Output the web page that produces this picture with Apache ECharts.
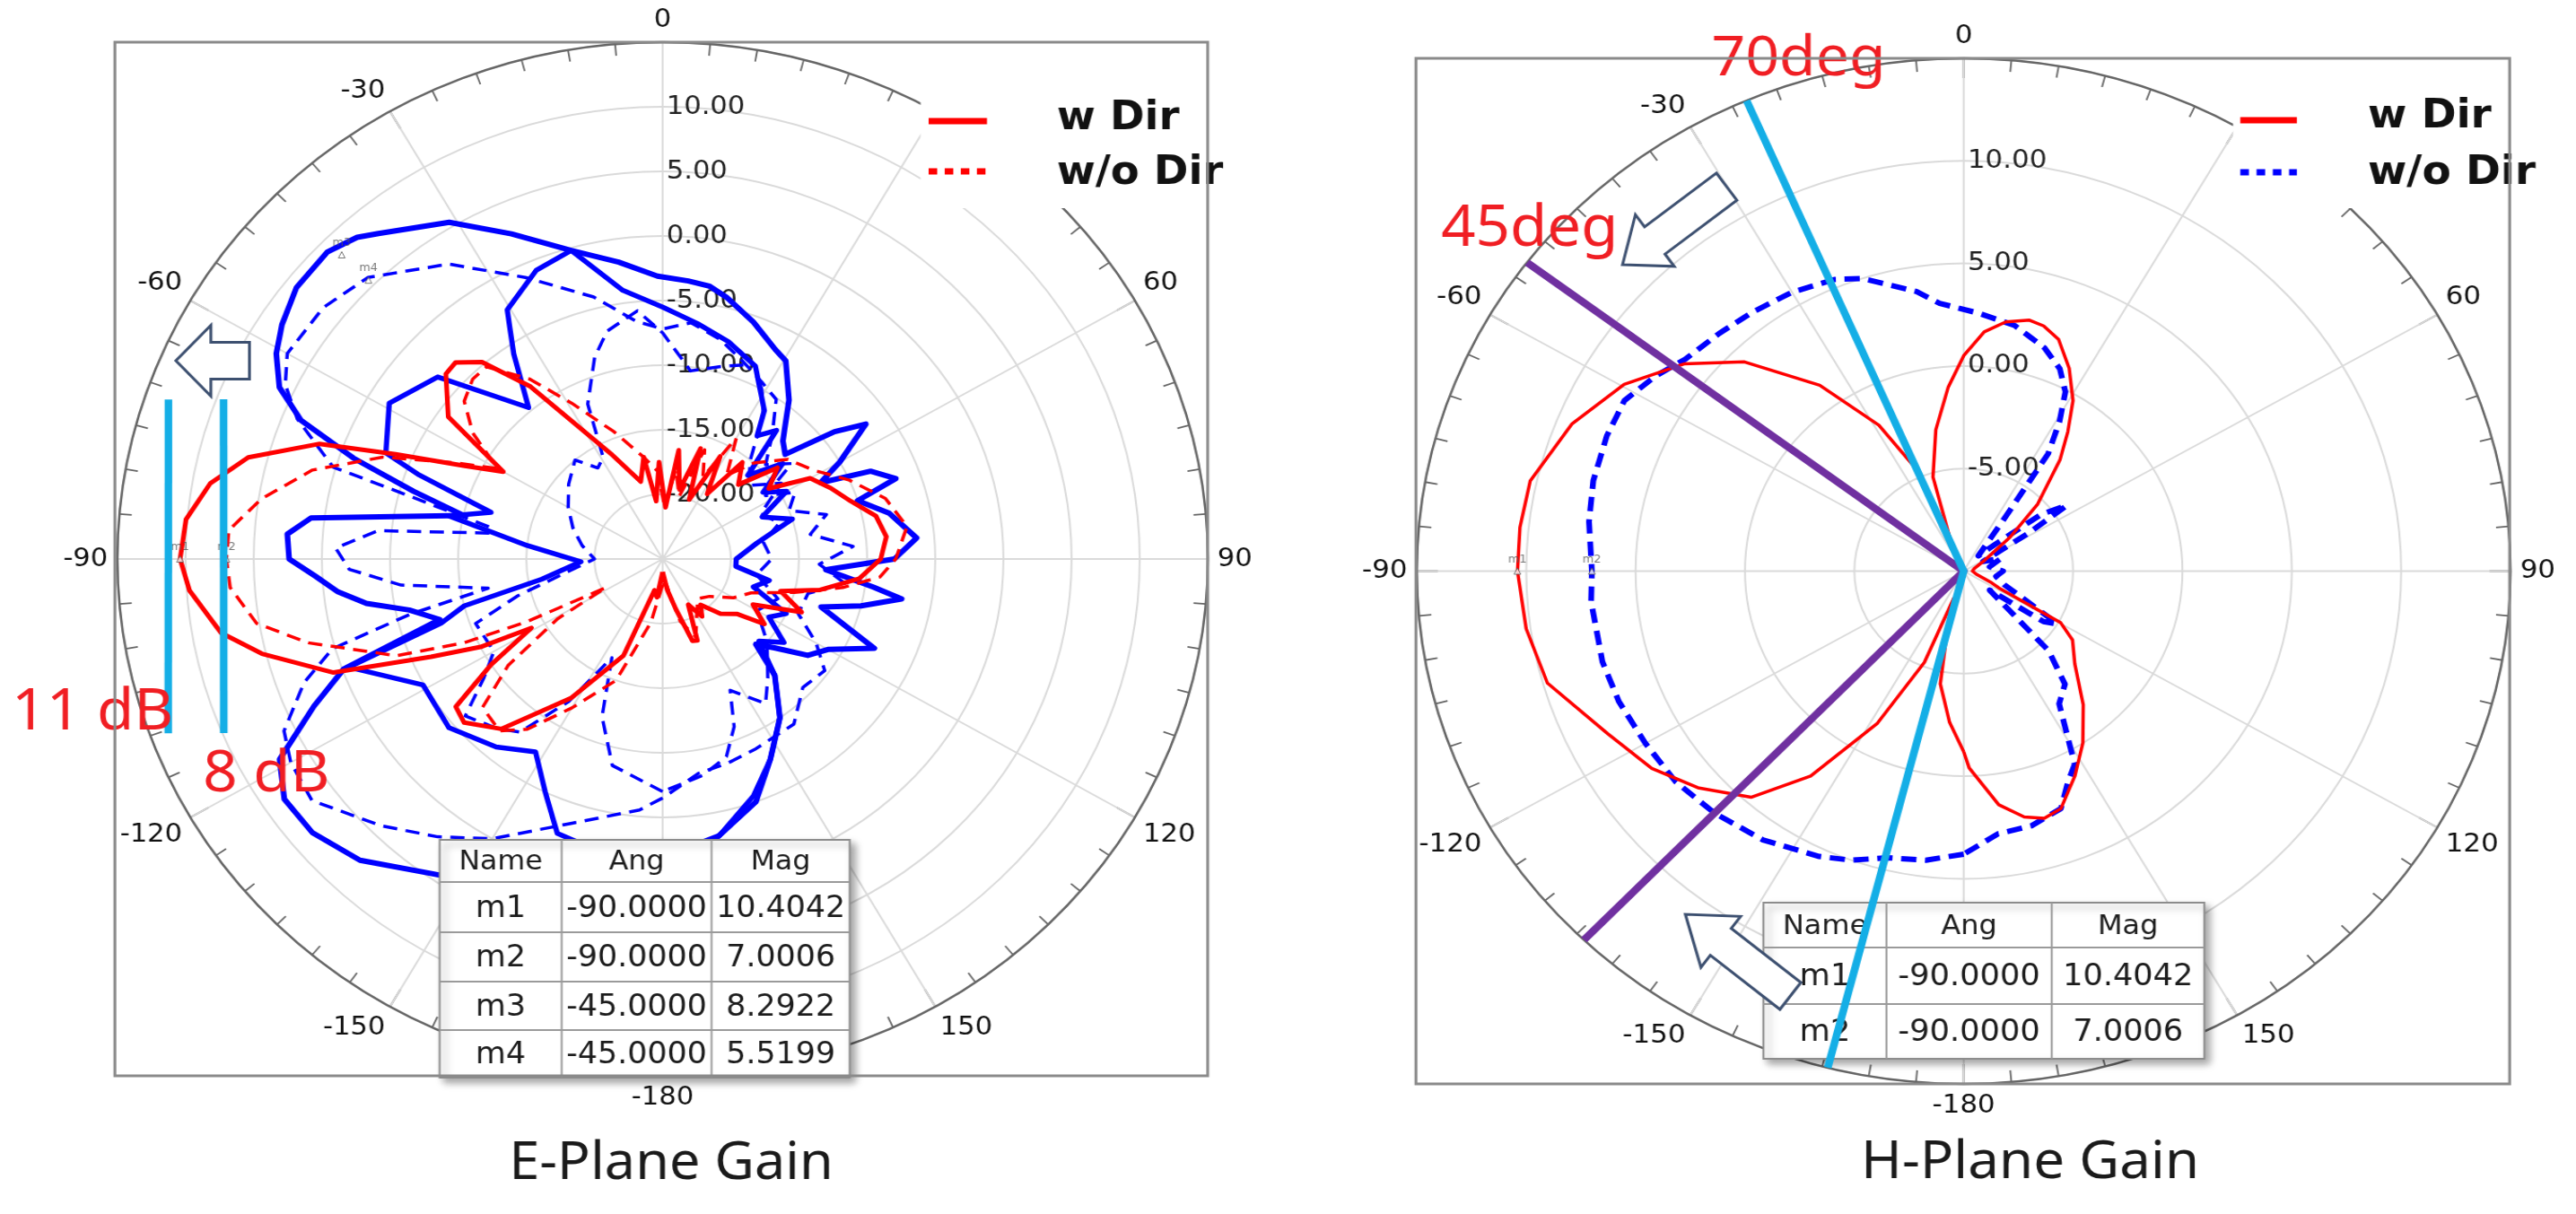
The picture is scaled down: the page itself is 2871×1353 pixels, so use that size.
<!DOCTYPE html>
<html>
<head>
<meta charset="utf-8">
<script src="https://cdn.jsdelivr.net/npm/echarts@6/dist/echarts.min.js"></script>
<style>
  html, body { margin: 0; padding: 0; background: #fff; width: 2871px; height: 1353px; overflow: hidden; }
  .pane { position: absolute; top: 0; height: 1353px; transform-origin: 0 0; }
</style>
</head>
<body>
<div id="ePlane" class="pane"></div>
<div id="hPlane" class="pane"></div>
<script>
// ---- E-plane gain, points are [angle deg, gain dB] ----
var eRedSolid = [[-180,-24],[-172,-22],[-166,-22.5],[-159,-17],[-148,-12.3],[-138,-7.3],[-131,-5.7],[-127,-6],[-123,-10],[-119,-14],[-117,-10],[-114,-6.4],[-110,0.7],[-104,5.3],[-100,7.9],[-94,9.8],[-90,10.4],[-85,10.1],[-80,8.7],[-75.5,6.4],[-70.5,1.7],[-67.5,-3.8],[-63.6,-8.8],[-60,-11.5],[-55,-5.8],[-48,-3.6],[-45,-3.5],[-41,-4.8],[-36,-8.5],[-32,-12.4],[-25,-16],[-15,-18.8],[-10,-17],[-6,-20.5],[-2,-17.5],[3,-21],[8,-16.5],[13,-19.5],[18,-16],[23,-20],[28,-16],[33,-19],[38,-15.5],[44,-17],[50,-14],[55,-15.5],[60,-12.5],[66,-11.5],[72,-10.5],[78,-9],[84,-8.5],[90,-9],[96,-10.5],[101.7,-13.2],[106,-16],[112,-14],[118,-17.5],[124,-16],[128,-18.1],[135,-19],[142,-20.5],[147,-19.7],[152,-21],[158,-18.2],[161,-18.3],[166,-21],[172,-22.6],[180,-24]];
var eRedDash = [[-180,-23],[-170,-20],[-160,-15],[-150,-11.7],[-143,-8.5],[-138,-7.1],[-131,-7.5],[-126,-11],[-121,-16],[-118,-20.3],[-116,-14],[-114,-9.1],[-111,-4.1],[-104,1.8],[-99.5,5.2],[-94,6.8],[-90,7],[-86,6.9],[-81,4.8],[-75,1.6],[-69,-3],[-64,-8],[-60,-11],[-55,-8],[-50,-6],[-45,-5.3],[-41,-5.3],[-35,-8],[-29,-11.2],[-20,-14.5],[-10,-17],[-3,-18.2],[2,-21],[8,-18],[14,-20],[20,-16],[25,-18],[30,-14.2],[36,-17],[42,-15],[50,-13],[58,-12],[66,-10],[74,-8],[82,-6.9],[90,-7.9],[95,-9],[99.5,-11.6],[105,-15],[112,-18],[120,-19],[130,-20.5],[140,-21],[150,-20],[158,-18.5],[165,-20],[172,-23],[180,-23]];
var eBlueSolidOuter = [[-180,-0.5],[-175,0],[-165,1.5],[-155,3],[-145,4.7],[-136.4,7.2],[-129.5,8.3],[-123.8,8.4],[-118.9,7.1],[-114,3],[-110,-0.1],[-106,-8],[-102,-6],[-99,-3],[-96,-1],[-93,0.5],[-90,2.4],[-86,2.6],[-83,1],[-80,-6],[-77,-10],[-74,-6],[-71,-1],[-68,3.6],[-64.7,6.1],[-60.7,7.5],[-57,8.3],[-52,9.1],[-46,9.2],[-42,8.5],[-39.6,7.7],[-31,5.4],[-23.8,2.5],[-15.7,-0.2],[-8,-1.8],[-1,-3.1],[5,-3.4],[9.2,-3.6],[13,-4.2],[20,-5.5],[27,-6.8],[30.5,-7.2],[37,-9.6],[44,-12.3],[48,-12.9],[52,-9],[55,-6.8],[60,-10],[63,-12],[66,-8.3],[70,-6.8],[72.5,-10],[78,-8],[85,-6.3],[90,-8],[94,-13],[98,-9.4],[100,-7.2],[104,-10],[107.7,-12.8],[114,-8],[120,-11],[125,-12],[130,-14.3],[134,-15.5],[137.6,-12.8],[145,-10],[153,-7.6],[160,-5],[169,-3.2],[175,-1.5],[180,-0.5]];
var eBlueSolidInner = [[-180,-2.5],[-172,-1.5],[-160,-2.4],[-154.5,-5],[-148,-7.4],[-140,-6],[-129.8,-4.6],[-119,-4.9],[-110,-0.5],[-107,-8],[-104,-10],[-100,-16],[-92,-19],[-84,-15],[-78,-9],[-74,-11.9],[-70,-6],[-68,-3.1],[-59,-1.6],[-49.5,-3.3],[-40,-9.7],[-34.5,-5.7],[-30.6,-2.6],[-22.5,-0.8],[-15.7,-0.2],[-8,-4],[0,-5.5],[8,-6.6],[16,-7.5],[24.5,-8.6],[33,-11.3],[36,-13.2],[40,-12],[44,-16],[50,-13.5],[55,-16],[60,-14.5],[66,-17],[72,-15],[80,-18],[90,-19.6],[96,-19.6],[102,-17],[108,-18],[115,-15],[120,-16],[126,-14],[132,-15.5],[137.6,-12.8],[145,-10],[153,-7.6],[160,-5.5],[169,-3.2],[176,-2.5],[180,-2.5]];
var eBlueDashOuter = [[-180,-6.5],[-175,-5.5],[-162,-3.5],[-150,0],[-142.5,2.1],[-135,4.2],[-126,6.8],[-120,6.5],[-115.6,5.8],[-110,3],[-106,0.2],[-103,-6],[-100,-12],[-96,-5.7],[-92,-2],[-88,-1],[-84,-4],[-81,-12.2],[-79,-12.1],[-74.9,-4.7],[-73.6,0.2],[-68,3.9],[-64,5.8],[-60,6.8],[-52,6.6],[-44.8,5.7],[-34.5,2.7],[-24.8,-1],[-14,-4.1],[-6,-6.5],[0,-7.2],[6.5,-6.6],[14,-7.5],[21,-8.6],[28,-9.5],[34,-10.1],[40,-12.5],[46,-14.5],[52,-13],[57,-16],[62,-14],[68,-15],[74,-12.5],[80,-14],[86,-11],[92,-13.5],[98,-11.5],[104,-14],[113,-14.2],[120,-12],[126,-10.3],[134,-10.7],[143,-9],[155,-8.8],[163,-8.5],[171,-8.2],[180,-6.5]];
var eBlueDashInner = [[-180,-7],[-167,-8.6],[-160,-12],[-154,-16.5],[-148,-12],[-142,-8],[-137,-7.1],[-130,-6.1],[-125,-9],[-120,-10.7],[-110,-10.4],[-105,-14],[-98,-18],[-90,-20],[-80,-19],[-70,-18],[-60,-17],[-50,-16],[-40,-15],[-34,-16.5],[-29,-16],[-24.6,-11.8],[-17.7,-8.6],[-13,-6.9],[-5.5,-5.7],[0,-7.5],[8,-10.3],[16,-9.5],[24,-8.5],[29,-10],[33.5,-11.6],[40,-15],[48,-16.5],[56,-14.5],[64,-17],[72,-16],[80,-17.5],[90,-17],[100,-18],[110,-16],[120,-17],[130,-15],[140,-13],[146,-11.5],[154,-13.7],[158,-11],[163,-9],[170,-8],[180,-7]];
var eMarkers = [['m1', -90, 10.4042], ['m2', -90, 7.0006], ['m3', -45, 8.2922], ['m4', -45, 5.5199]];
// hand drawn level lines (11 dB / 8 dB), [angle, dB]
var eLevel11 = [[-71.2, 13.3], [-110.4, 13.7]];
var eLevel8 = [[-69.0, 9.5], [-112.7, 9.9]];

// ---- H-plane gain ----
var hWithDir = [[-180,-1.2],[-175,-2.6],[-169,-4.4],[-164,-7.5],[-161,-8.6],[-158,-5.2],[-152,-1.6],[-145,2.2],[-138.6,4.7],[-131,6.1],[-124,7.2],[-116,8.1],[-106,9.8],[-98,10.2],[-90,10.4],[-84,10.4],[-77.5,10.3],[-68.2,9.3],[-59.6,8],[-51.7,6.3],[-44.5,4.3],[-36,1.2],[-28.6,-1.9],[-24,-4.4],[-21,-8.2],[-17,-5.2],[-10.5,-3],[-4.5,-1],[0,0.5],[4.6,1.7],[9,2.3],[13.8,2.6],[17,2.5],[21,2.1],[26,1],[31,-0.3],[35,-1.7],[39,-3],[46,-5.3],[52,-7.3],[61,-8.9],[75,-9.5],[90,-9.6],[105,-9.4],[114,-8.6],[117,-8.2],[119.6,-4.9],[124,-4],[131.7,-3.2],[140,-1.5],[147,0],[153,1.2],[159,2.4],[163,2.6],[167,2.3],[172,1.5],[178.5,-0.4],[180,-1.2]];
var hWithoutDir = [[-180,3.8],[-173,4.2],[-166,4.4],[-160,5],[-154.6,5.4],[-145,6],[-136,6.4],[-128,6.7],[-120,6.8],[-112,7],[-105,7.1],[-95,7.1],[-90,7.0],[-82,7.3],[-75.4,7.5],[-68,7.6],[-61.8,7.6],[-56,7],[-51,6.4],[-44,6.1],[-37.6,5.9],[-30,5.7],[-22.6,5.4],[-18,5],[-14,4.4],[-9,3.8],[-4.8,3.1],[3,2.6],[11,2.2],[18.7,1.5],[24,0.8],[28,-0.1],[31,-1.5],[34,-3.1],[36,-6.9],[42,-9],[48,-8],[52,-5.5],[55.8,-4.3],[58,-6.5],[62,-9],[70,-8.2],[80,-8.8],[90,-8.2],[100,-8.5],[110,-8],[116,-7],[121,-5],[124,-5.6],[128,-8.5],[135,-4.5],[140,-2.8],[146,-2.2],[151.7,0.7],[155,1.3],[159,2.4],[166,2.8],[173,2.9],[180,3.8]];
var hMarkers = [['m1', -90, 10.4042], ['m2', -90, 7.0006]];
// hand drawn beam-edge lines, [angle, dB]
var hLine70 = [[-23.4, 15], [0, -10], [-165.6, 15]];
var hLine45 = [[-53, 15], [0, -10], [-136, 15]];

var tableHead = ['Name', 'Ang', 'Mag'];

// ---- layout of the two panes (full-picture pixels) ----
var E = { id: 'ePlane', left: 0, width: 1435, sx: 1.055, cx: 738.5, cy: 623, r: 576, rMin: -25, rMax: 15 };
var H = { id: 'hPlane', left: 1435, width: 1436, sx: 1.0656, cx: 2188, cy: 636.5, r: 571.5, rMin: -10, rMax: 15 };

var RED = '#ff0000', BLUE = '#0000ff', CYAN = '#14aee6', PURPLE = '#7030a0', ANNO = '#f01e23';

function toPolar(arr) {
  return arr.map(function (p) { return [p[1], (p[0] + 360) % 360]; });
}

function angleLabel(v) {
  if (v === 360 || v === 30) return '';
  if (v === 180) return '-180';
  return String(v > 180 ? v - 360 : v);
}

function curve(name, data, color, width, dash, z) {
  return {
    name: name, type: 'line', coordinateSystem: 'polar', data: toPolar(data),
    symbol: 'none', silent: true, z: z, clip: false,
    lineStyle: { color: color, width: width, type: dash || 'solid', cap: 'butt', join: 'round' }
  };
}

function markers(list) {
  return {
    type: 'scatter', coordinateSystem: 'polar', z: 6, silent: true,
    data: list.map(function (m) { return { name: m[0], value: [m[2], (m[1] + 360) % 360] }; }),
    symbol: 'triangle', symbolSize: 7,
    itemStyle: { color: '#fff', borderColor: '#555', borderWidth: 1 },
    label: { show: true, formatter: '{b}', position: 'top', distance: 3, fontSize: 12, color: '#555', fontFamily: 'DejaVu Sans' }
  };
}

function arrowPoints(tip, tail, headLen, headHalf, shaftHalf) {
  var dx = tail[0] - tip[0], dy = tail[1] - tip[1], L = Math.sqrt(dx * dx + dy * dy);
  var ux = dx / L, uy = dy / L, nx = -uy, ny = ux;
  var b = [tip[0] + ux * headLen, tip[1] + uy * headLen];
  return [tip,
    [b[0] + nx * headHalf, b[1] + ny * headHalf],
    [b[0] + nx * shaftHalf, b[1] + ny * shaftHalf],
    [tail[0] + nx * shaftHalf, tail[1] + ny * shaftHalf],
    [tail[0] - nx * shaftHalf, tail[1] - ny * shaftHalf],
    [b[0] - nx * shaftHalf, b[1] - ny * shaftHalf],
    [b[0] - nx * headHalf, b[1] - ny * headHalf]];
}

function setup(p, series, extra) {
  var dom = document.getElementById(p.id);
  var w = p.width / p.sx;
  dom.style.left = p.left + 'px';
  dom.style.width = w + 'px';
  dom.style.transform = 'scaleX(' + p.sx + ')';
  var px = function (X) { return (X - p.left) / p.sx; };

  var g = [];
  function text(str, X, y, size, opts) {
    opts = opts || {};
    g.push({ type: 'text', x: px(X), y: y, z: opts.z || 30, silent: true,
      style: { text: str, fontSize: size, fontFamily: opts.font || 'Noto Sans', fontWeight: opts.weight || 'normal',
        fill: opts.color || '#1a1a1a', align: opts.align || 'left', verticalAlign: 'middle' } });
  }
  function hline(X1, X2, y, color, width, dash, z) {
    g.push({ type: 'line', z: z || 30, silent: true, shape: { x1: px(X1), y1: y, x2: px(X2), y2: y },
      style: { stroke: color, lineWidth: width, lineDash: dash || null, lineCap: 'butt' } });
  }
  function vline(X, y1, y2, color, width, z) {
    g.push({ type: 'line', z: z || 30, silent: true, shape: { x1: px(X), y1: y1, x2: px(X), y2: y2 },
      style: { stroke: color, lineWidth: width } });
  }
  function rect(X1, y1, X2, y2, style, z) {
    g.push({ type: 'rect', z: z, silent: true, shape: { x: px(X1), y: y1, width: px(X2) - px(X1), height: y2 - y1 }, style: style });
  }
  function arrow(tip, tail, hl, hh, sh) {
    var pts = arrowPoints(tip, tail, hl, hh, sh).map(function (q) { return [px(q[0]), q[1]]; });
    g.push({ type: 'polygon', z: 40, silent: true, shape: { points: pts },
      style: { fill: '#ffffff', stroke: '#3d5070', lineWidth: 3, lineJoin: 'miter' } });
  }
  function table(cols, rowsY, body) {
    rect(cols[0], rowsY[0], cols[cols.length - 1], rowsY[rowsY.length - 1],
      { fill: '#fff', stroke: '#8c8c8c', lineWidth: 2, shadowBlur: 8, shadowOffsetX: 5, shadowOffsetY: 5, shadowColor: 'rgba(0,0,0,0.35)' }, 12);
    for (var c = 1; c < cols.length - 1; c++) vline(cols[c], rowsY[0], rowsY[rowsY.length - 1], '#9a9a9a', 2, 13);
    for (var r = 1; r < rowsY.length - 1; r++) hline(cols[0], cols[cols.length - 1], rowsY[r], '#9a9a9a', 2, null, 13);
    var rows = [tableHead].concat(body.map(function (m) { return [m[0], m[1].toFixed(4), m[2].toFixed(4)]; }));
    rows.forEach(function (row, ri) {
      row.forEach(function (cell, ci) {
        text(cell, (cols[ci] + cols[ci + 1]) / 2, (rowsY[ri] + rowsY[ri + 1]) / 2 + 2, ri === 0 ? 30 : 33,
          { font: 'DejaVu Sans', align: 'center', color: '#1c1c1c', z: 14 });
      });
    });
  }
  extra({ text: text, hline: hline, vline: vline, rect: rect, arrow: arrow, table: table });

  var chart = echarts.init(dom, null, { renderer: 'canvas', width: w, height: 1353 });
  chart.setOption({
    animation: false,
    polar: { center: [px(p.cx), p.cy], radius: p.r },
    angleAxis: {
      type: 'value', min: 0, max: 360, interval: 30, startAngle: 90, clockwise: true, z: 1,
      axisLine: { show: true, lineStyle: { color: '#666', width: 2.5 } },
      axisTick: { show: true, inside: true, length: 22, lineStyle: { color: '#666', width: 2 } },
      minorTick: { show: true, splitNumber: 6, length: 13, lineStyle: { color: '#666', width: 1.8 } },
      splitLine: { show: true, lineStyle: { color: '#dadada', width: 2 } },
      axisLabel: { show: true, margin: 10, fontSize: 29, fontFamily: 'DejaVu Sans', color: '#111', formatter: angleLabel }
    },
    radiusAxis: {
      type: 'value', min: p.rMin, max: p.rMax, interval: 5, z: 1,
      axisLine: { show: false }, axisTick: { show: false },
      splitLine: { show: true, lineStyle: { color: '#dadada', width: 2 } },
      axisLabel: {
        show: true, margin: -4, align: 'left', fontSize: 29, fontFamily: 'DejaVu Sans', color: '#222',
        padding: [0, 0, 12, 0],
        formatter: function (v) { return (v <= p.rMin || v >= p.rMax) ? '' : v.toFixed(2); }
      }
    },
    series: series,
    graphic: { elements: g }
  });
  return chart;
}

// ---- E-plane ----
setup(E, [
  curve('w Dir (cut 2)', eBlueSolidInner, BLUE, 5.5, null, 2),
  curve('w Dir (cut 1)', eBlueSolidOuter, BLUE, 6, null, 2),
  curve('w/o Dir (cut 2)', eBlueDashInner, BLUE, 3.5, [15, 9], 2),
  curve('w/o Dir (cut 1)', eBlueDashOuter, BLUE, 3.5, [15, 9], 2),
  curve('w/o Dir', eRedDash, RED, 3.5, [15, 9], 3),
  curve('w Dir', eRedSolid, RED, 5, null, 3),
  curve('11 dB', eLevel11, CYAN, 8, null, 20),
  curve('8 dB', eLevel8, CYAN, 8, null, 20),
  markers(eMarkers)
], function (d) {
  // legend area
  d.rect(1026, 52, 1340, 232, { fill: '#fff' }, 25);
  d.hline(1035, 1100, 135, RED, 7, null, 30);
  d.hline(1035, 1100, 191, RED, 7, [9, 8], 30);
  d.text('w Dir', 1178, 133, 44, { font: 'DejaVu Sans', weight: 'bold', color: '#111' });
  d.text('w/o Dir', 1178, 194, 44, { font: 'DejaVu Sans', weight: 'bold', color: '#111' });
  // frame
  d.rect(128, 47, 1346, 1199, { fill: 'none', stroke: '#8a8a8a', lineWidth: 3 }, 35);
  // marker table
  d.table([490, 626, 793, 947], [936, 983, 1039, 1094, 1148, 1201], eMarkers);
  // annotations
  d.arrow([196, 402], [278, 402], 39, 39.5, 20.5);
  d.text('11 dB', 13, 795, 64, { color: ANNO });
  d.text('8 dB', 226, 864, 64, { color: ANNO });
  d.text('E-Plane Gain', 748, 1297, 58, { align: 'center', color: '#1a1a1a' });
});

// ---- H-plane ----
setup(H, [
  curve('w/o Dir', hWithoutDir, BLUE, 6, [16, 9], 2),
  curve('w Dir', hWithDir, RED, 3.5, null, 3),
  curve('45deg', hLine45, PURPLE, 8, null, 20),
  curve('70deg', hLine70, CYAN, 8, null, 21),
  markers(hMarkers)
], function (d) {
  d.rect(2488, 70, 2790, 232, { fill: '#fff' }, 25);
  d.hline(2496, 2559, 134, RED, 7, null, 30);
  d.hline(2496, 2559, 192, BLUE, 7, [9, 8], 30);
  d.text('w Dir', 2638, 131, 44, { font: 'DejaVu Sans', weight: 'bold', color: '#111' });
  d.text('w/o Dir', 2638, 194, 44, { font: 'DejaVu Sans', weight: 'bold', color: '#111' });
  d.rect(1578, 65, 2796, 1208, { fill: 'none', stroke: '#8a8a8a', lineWidth: 3 }, 35);
  d.table([1965, 2102, 2286, 2456], [1006, 1056, 1119, 1180], hMarkers);
  d.arrow([1808, 295], [1924, 208], 45, 36, 19);
  d.arrow([1878, 1019], [1995, 1110], 50, 36, 19);
  d.text('70deg', 1907, 66, 62, { color: ANNO });
  d.text('45deg', 1606, 256, 63, { color: ANNO });
  d.text('H-Plane Gain', 2262, 1296, 58, { align: 'center', color: '#1a1a1a' });
});
</script>
</body>
</html>
